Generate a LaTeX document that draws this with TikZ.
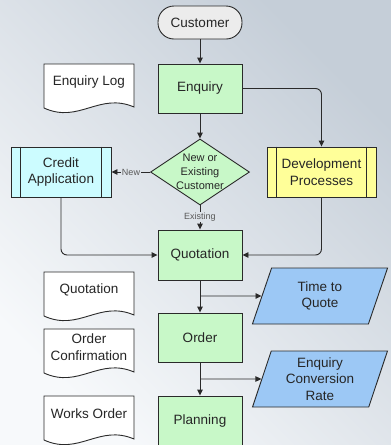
\documentclass[tikz,border=0pt]{standalone}
\usepackage{fontspec}
\setmainfont{Liberation Sans}
\usetikzlibrary{shapes.geometric,arrows.meta,calc}
\definecolor{lgreen}{HTML}{C8F8C8}
\definecolor{lcyan}{HTML}{CCFCFF}
\definecolor{lyellow}{HTML}{FFFF99}
\definecolor{lblue}{HTML}{9CC8F5}
\definecolor{lgray}{HTML}{ECECEC}
\definecolor{edge}{HTML}{2A2A2A}
\definecolor{bgtop}{HTML}{F7F9FB}
\definecolor{bgbot}{HTML}{C5CED8}
\newcommand\docshape[4]{%
  \begin{scope}[shift={(#2,#3)}]
    \draw[docsty] (0,0) -- (90,0) -- (90,43) .. controls (55,28) and (35,60) .. (0,44) -- cycle;
    \node[txt] (#1) at (45,18) {#4};
  \end{scope}}
\begin{document}
\begin{tikzpicture}[x=1pt,y=-1pt,
  txt/.style={font=\fontsize{13.5}{16.5}\selectfont, text=black!85, align=center, inner sep=0},
  boxsty/.style={draw=edge, line width=0.9pt, minimum width=84pt, inner sep=0, txt},
  procbox/.style={boxsty, fill=lgreen},
  docsty/.style={draw=edge, line width=0.9pt, fill=white},
  subproc/.style={boxsty, minimum height=50pt},
  iobox/.style={trapezium, trapezium left angle=73, trapezium right angle=107, trapezium stretches=true,
     draw=edge, line width=0.9pt, fill=lblue, minimum width=136pt, minimum height=56pt, inner sep=0, txt},
  lbl/.style={font=\fontsize{9}{10}\selectfont, text=black!65, inner sep=1pt},
  conn/.style={draw=edge, line width=0.9pt},
  arr/.style={conn, -{Triangle[length=6pt,width=5.5pt]}}]
\useasboundingbox (0,0) rectangle (391,445);
\begin{scope}
\clip (0,0) rectangle (391,445);
\shade[shading=axis, top color=bgtop, bottom color=bgbot, shading angle=135] (0,0) rectangle (391,445);

% main flow
\node[boxsty, fill=lgray, minimum height=33pt, rounded corners=16pt] (cust) at (200,22.5) {Customer};
\node[procbox, minimum height=49pt] (enq) at (200,88.5) {Enquiry};
\node[diamond, draw=edge, line width=0.9pt, fill=lgreen, minimum width=99pt, minimum height=66pt, inner sep=0] (dec) at (200,172) {};
\node[txt, font=\fontsize{11}{14}\selectfont] (dectxt) at (200,171.5) {New or\\Existing\\Customer};
\node[subproc, fill=lcyan, minimum width=100pt] (credit) at (61,172) {Credit\\Application};
\draw[edge, line width=0.9pt] ([xshift=10pt]credit.north west) -- ([xshift=10pt]credit.south west)
  ([xshift=-10pt]credit.north east) -- ([xshift=-10pt]credit.south east);
\node[subproc, fill=lyellow, minimum width=109pt] (dev) at (321.5,172) {Development\\Processes};
\draw[edge, line width=0.9pt] ([xshift=10pt]dev.north west) -- ([xshift=10pt]dev.south west)
  ([xshift=-10pt]dev.north east) -- ([xshift=-10pt]dev.south east);
\node[procbox, minimum height=50pt] (quot) at (200,255) {Quotation};
\node[procbox, minimum height=49pt] (order) at (200,337.5) {Order};
\node[procbox, minimum height=50pt] (plan) at (200,421) {Planning};

\node[iobox] (ttq) at (320,296) {Time to\\Quote};
\node[iobox] (ecr) at (320,379) {Enquiry\\Conversion\\Rate};

% documents
\docshape{dlog}{44}{64}{Enquiry Log}
\docshape{dquot}{44}{272}{Quotation}
\docshape{dconf}{44}{329}{Order\\Confirmation}
\docshape{dworks}{44}{396}{Works Order}

% labels
\node[lbl] (newl) at (131,172) {New};
\node[lbl] (exl) at (200,217) {Existing};

% connectors
\draw[arr] (cust) -- (enq);
\draw[arr] (enq) -- (dec);
\draw[arr, rounded corners=6pt] (enq.east) -| (dev.north);
\draw[conn] (dec.west) -- (newl.east);
\draw[arr] (newl.west) -- (credit.east);
\draw[conn] (dec.south) -- (exl.north);
\draw[arr] (exl.south) -- (quot.north);
\draw[arr, rounded corners=6pt] (credit.south) |- (quot.west);
\draw[arr, rounded corners=6pt] (dev.south) |- (quot.east);
\draw[arr] (quot) -- (order);
\coordinate (b1) at (200,296);
\draw[arr] (b1) -- (ttq);
\draw[arr] (order) -- (plan);
\coordinate (b2) at (200,379);
\draw[arr] (b2) -- (ecr);
\end{scope}
\end{tikzpicture}
\end{document}
